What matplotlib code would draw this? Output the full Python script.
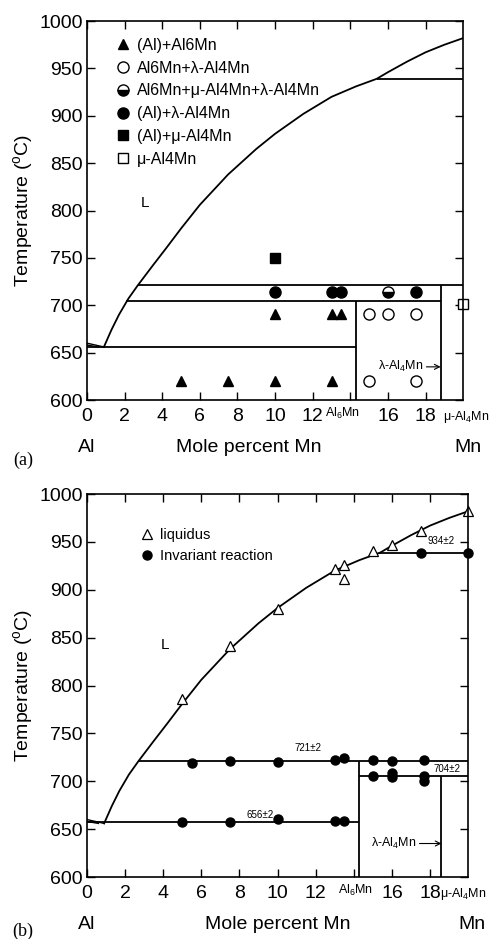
import matplotlib
matplotlib.use('Agg')
import matplotlib.pyplot as plt

plt.rcParams['font.family'] = 'Liberation Sans'
plt.rcParams['mathtext.fontset'] = 'custom'
plt.rcParams['mathtext.rm'] = 'Liberation Sans'
plt.rcParams['mathtext.it'] = 'Liberation Sans:italic'

# liquidus curve (mole percent Mn, temperature C)
liq_x = [0.9, 1.3, 1.7, 2.2, 2.7, 3.5, 4.2, 5.0, 6.0, 7.5, 9.0, 10.0, 11.5, 13.0, 14.3, 15.4,
         16.0, 17.0, 18.0, 19.0, 20.0]
liq_T = [656, 674, 690, 707, 721, 742, 760, 781, 806, 838, 865, 881, 902, 920, 931, 939,
         946, 957, 967, 975, 982]
# Al-rich corner
al_x = [0.0, 0.9]
al_T = [660, 656]
al2_x = [0.0, 0.6]
al2_T = [658, 656]

# (a) phase identification samples
a_tri_x = [5, 7.5, 10, 13, 10, 13, 13.5]
a_tri_T = [620, 620, 620, 620, 691, 691, 691]
a_ocirc_x = [15, 16, 17.5, 15, 17.5]
a_ocirc_T = [691, 691, 691, 620, 620]
a_half_x = [16]
a_half_T = [714]
a_fcirc_x = [10, 13, 13.5, 17.5]
a_fcirc_T = [714, 714, 714, 714]
a_fsq_x = [10]
a_fsq_T = [750]
a_osq_x = [20]
a_osq_T = [701]
a_labels = ['(Al)+Al6Mn', 'Al6Mn+λ-Al4Mn', 'Al6Mn+μ-Al4Mn+λ-Al4Mn',
            '(Al)+λ-Al4Mn', '(Al)+μ-Al4Mn', 'μ-Al4Mn']

# (b) DTA measurements
b_liq_x = [5, 7.5, 10, 13, 13.5, 13.5, 15, 16, 17.5, 20]
b_liq_T = [786, 841, 880, 922, 926, 911, 941, 947, 961, 982]
b_inv_x = [5.5, 7.5, 10, 13, 13.5, 15, 16, 17.7,
           15, 16, 16, 17.7, 17.7,
           5, 7.5, 10, 13, 13.5,
           17.5, 20]
b_inv_T = [719, 721, 720, 722, 724, 722, 721, 722,
           705, 709, 704, 705, 700,
           657, 657, 661, 658, 659,
           938, 938]

x_ticks = [0, 2, 4, 6, 8, 10, 12, 14, 16, 18]
x_ticklabels = ['0', '2', '4', '6', '8', '10', '12', '', '16', '18']
y_ticks = [600, 650, 700, 750, 800, 850, 900, 950, 1000]

fig = plt.figure(figsize=(4.97, 9.39), dpi=100)
axa = fig.add_axes([0.175, 0.574, 0.757, 0.4036])
axb = fig.add_axes([0.175, 0.066, 0.767, 0.4079])


def style(ax):
    ax.set_xlim(0, 20)
    ax.set_ylim(600, 1000)
    ax.set_xticks(x_ticks)
    ax.set_xticklabels(x_ticklabels)
    ax.set_yticks(y_ticks)
    ax.tick_params(direction='in', top=True, right=True, length=6, width=1, labelsize=14)
    ax.tick_params(axis='x', pad=6)
    ax.tick_params(axis='y', pad=3)
    ax.set_ylabel(r'Temperature ($^{\rm o}$C)', fontsize=14, labelpad=3)
    for s in ax.spines.values():
        s.set_linewidth(1.2)


lk = dict(color='black', lw=1.3)

# ---------------- (a) ----------------
style(axa)
axa.plot(liq_x, liq_T, **lk)
axa.plot(al_x, al_T, color='black', lw=1)
axa.plot(al2_x, al2_T, color='black', lw=1)
axa.hlines(656, 0, 14.28, **lk)
axa.hlines(704, 2.1, 18.8, **lk)
axa.hlines(721, 2.7, 20, **lk)
axa.hlines(939, 15.4, 20, **lk)
axa.vlines(14.28, 600, 704, **lk)
axa.vlines(18.8, 600, 721, **lk)

h1, = axa.plot(a_tri_x, a_tri_T, '^', color='black', ms=7, ls='none')
h2, = axa.plot(a_ocirc_x, a_ocirc_T, 'o', mfc='white', mec='black', ms=8, mew=1, ls='none')
h3, = axa.plot(a_half_x, a_half_T, 'o', fillstyle='bottom', mfc='black', mfcalt='white',
               mec='black', ms=8, mew=1, ls='none')
h4, = axa.plot(a_fcirc_x, a_fcirc_T, 'o', color='black', ms=8, ls='none')
h5, = axa.plot(a_fsq_x, a_fsq_T, 's', color='black', ms=7.5, ls='none')
h6, = axa.plot(a_osq_x, a_osq_T, 's', mfc='white', mec='black', ms=7.5, mew=1, ls='none',
               clip_on=False)
axa.legend([h1, h2, h3, h4, h5, h6], a_labels, loc='upper left', bbox_to_anchor=(0.079, 0.956),
           frameon=False, fontsize=11.5, handlelength=0.8, handletextpad=0.45,
           labelspacing=0.49, borderpad=0, borderaxespad=0)

axa.text(3.1, 808, 'L', fontsize=11, ha='center', va='center')
axa.annotate('λ-Al$_4$Mn', xy=(18.8, 635), xytext=(17.9, 635), ha='right', va='center',
             fontsize=9, arrowprops=dict(arrowstyle='->', lw=0.8, shrinkA=0, shrinkB=0))
tr = axa.get_xaxis_transform()
axa.text(13.6, -0.016, 'Al$_6$Mn', transform=tr, ha='center', va='top', fontsize=9)
axa.text(18.9, -0.024, 'μ-Al$_4$Mn', transform=tr, ha='left', va='top', fontsize=9)
axa.text(0, -0.124, 'Al', transform=tr, ha='center', va='center', fontsize=14)
axa.text(8.6, -0.124, 'Mole percent Mn', transform=tr, ha='center', va='center', fontsize=14)
axa.text(20.27, -0.124, 'Mn', transform=tr, ha='center', va='center', fontsize=14)
fig.text(0.047, 1 - 460 / 939, '(a)', family='Liberation Serif', fontsize=13, ha='center', va='center')

# ---------------- (b) ----------------
style(axb)
axb.plot(liq_x, liq_T, **lk)
axb.plot(al_x, al_T, color='black', lw=1)
axb.plot(al2_x, al2_T, color='black', lw=1)
axb.hlines(657, 0, 14.28, **lk)
axb.hlines(721, 2.7, 20, **lk)
axb.hlines(705, 14.28, 20, **lk)
axb.hlines(938, 15.3, 20, **lk)
axb.vlines(14.28, 600, 721, **lk)
axb.vlines(18.6, 600, 705, **lk)

g1, = axb.plot(b_liq_x, b_liq_T, '^', mfc='white', mec='black', ms=7, mew=0.9, ls='none',
               clip_on=False)
g2, = axb.plot(b_inv_x, b_inv_T, 'o', color='black', ms=6.5, ls='none', clip_on=False)
axb.legend([g1, g2], ['liquidus', 'Invariant reaction'], loc='upper left',
           bbox_to_anchor=(0.142, 0.91), frameon=False, fontsize=10.5, handlelength=0.8,
           handletextpad=0.5, labelspacing=0.47, borderpad=0, borderaxespad=0)

axb.text(4.1, 842, 'L', fontsize=11, ha='center', va='center')
axb.text(11.6, 735, '721±2', fontsize=7, ha='center', va='center')
axb.text(9.1, 665, '656±2', fontsize=7, ha='center', va='center')
axb.text(18.9, 713, '704±2', fontsize=7, ha='center', va='center')
axb.text(18.6, 951, '934±2', fontsize=7, ha='center', va='center')
axb.annotate('λ-Al$_4$Mn', xy=(18.6, 635), xytext=(17.3, 635), ha='right', va='center',
             fontsize=9, arrowprops=dict(arrowstyle='->', lw=0.8, shrinkA=0, shrinkB=0))
tr = axb.get_xaxis_transform()
axb.text(14.1, -0.016, 'Al$_6$Mn', transform=tr, ha='center', va='top', fontsize=9)
axb.text(18.5, -0.024, 'μ-Al$_4$Mn', transform=tr, ha='left', va='top', fontsize=9)
axb.text(0, -0.125, 'Al', transform=tr, ha='center', va='center', fontsize=14)
axb.text(10.0, -0.125, 'Mole percent Mn', transform=tr, ha='center', va='center', fontsize=14)
axb.text(20.2, -0.125, 'Mn', transform=tr, ha='center', va='center', fontsize=14)
fig.text(0.045, 0.008, '(b)', family='Liberation Serif', fontsize=13, ha='center', va='center')

fig.savefig('out.png', dpi=100)
